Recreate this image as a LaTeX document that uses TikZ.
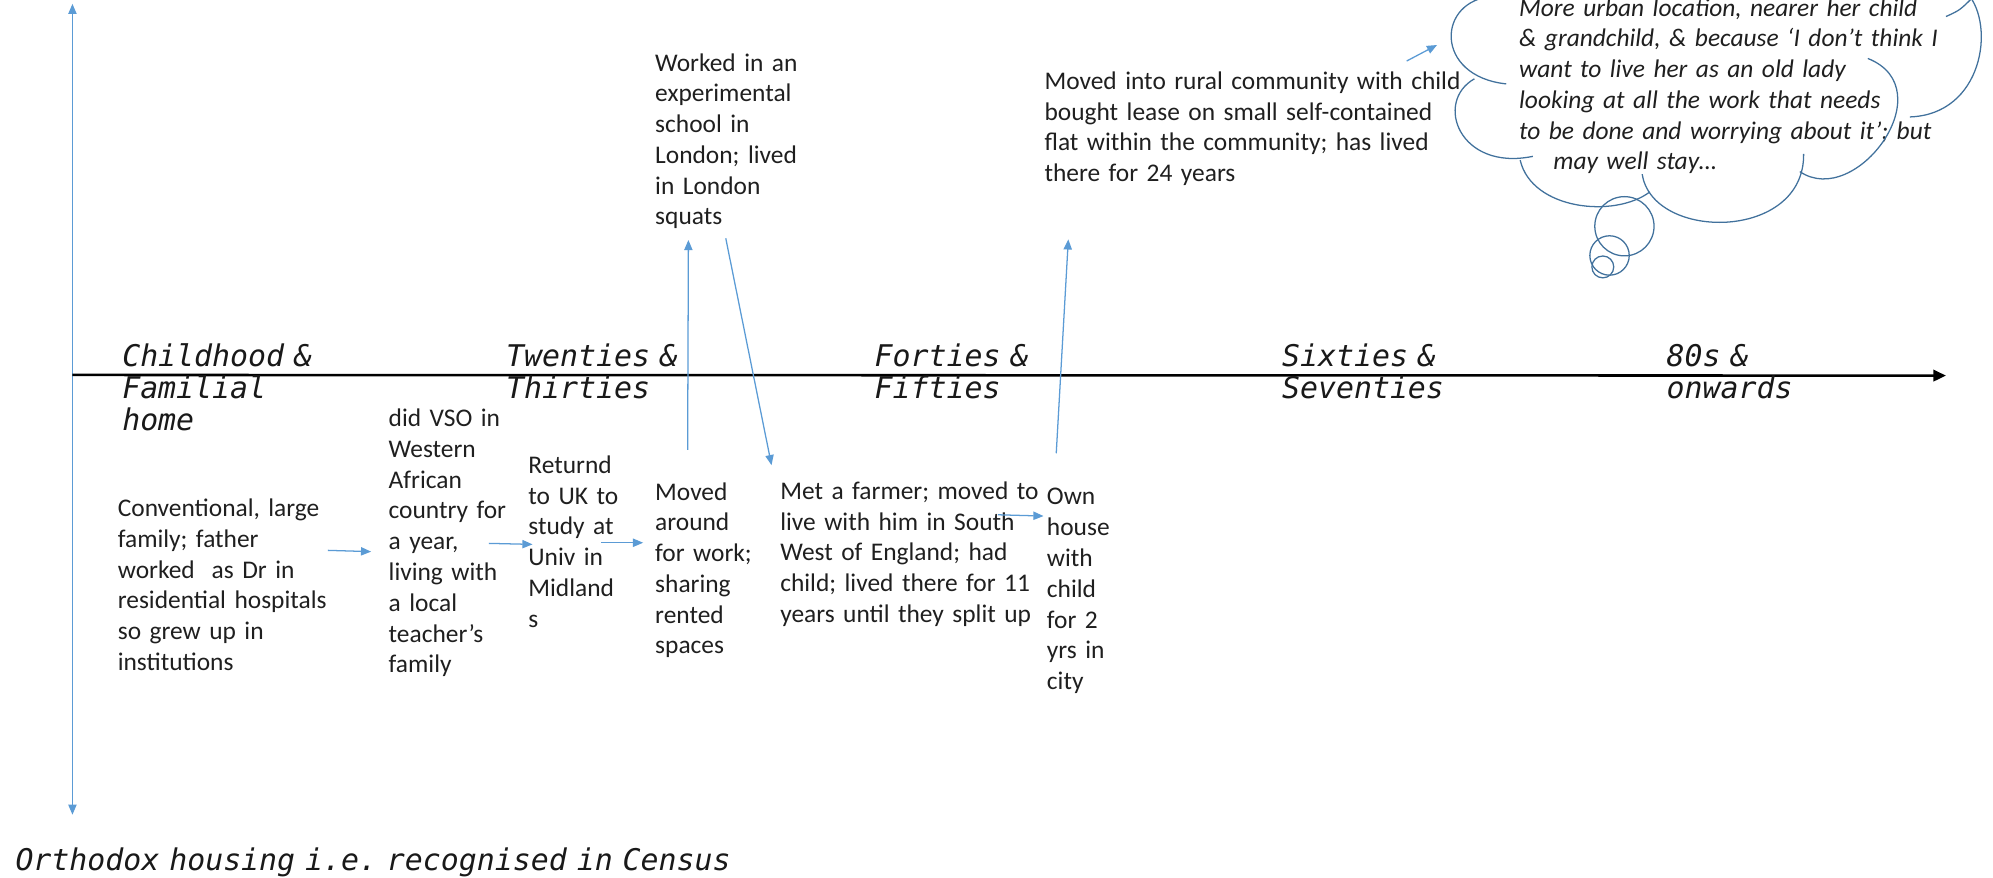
\documentclass[tikz,border=0pt]{standalone}
\usepackage{fontspec}
\setmainfont{Carlito}
\newfontfamily\labelfont{DejaVu Sans Mono Oblique}
\usetikzlibrary{arrows.meta}
\definecolor{arrowblue}{HTML}{5B9BD5}
\definecolor{cloudblue}{HTML}{41719C}
\frenchspacing
\begin{document}
\begin{tikzpicture}[x=1pt,y=-1pt,
  every node/.style={inner sep=0pt, anchor=base west},
  body/.style={font=\fontsize{20}{24.2}\selectfont, text=black!88, align=left, text width=#1},
  body/.default=130pt,
  period/.style={font=\labelfont\fontsize{23.5}{25}\selectfont\frenchspacing, text=black!90, align=left, text width=220pt},
  flow/.style={draw=arrowblue, line width=1pt, -{Triangle[length=8pt,width=6.5pt]}},
  cloudline/.style={draw=cloudblue, line width=1pt}]
\useasboundingbox (0,0) rectangle (1568,690);
\clip (0,0) rectangle (1568,690);

% axes
\coordinate (vtop) at (57,3);
\coordinate (vbot) at (57,641);
\coordinate (horig) at (57,295);
\coordinate (hend) at (1531,295.5);
\draw[draw=arrowblue, line width=1pt, {Triangle[length=8pt,width=6.5pt]}-{Triangle[length=8pt,width=6.5pt]}] (vtop) -- (vbot);
\draw[line width=2pt, -{Triangle[length=10pt,width=9pt]}] (horig) -- (hend);

% period labels
\node[period] (p1) at (96,288.5) {Childhood \&\\Familial\\home};
\node[period] (p2) at (398,288.5) {Twenties \&\\Thirties};
\node[period] (p3) at (688,288.5) {Forties \&\\Fifties};
\node[period] (p4) at (1008.5,288.5) {Sixties \&\\Seventies};
\node[period] (p5) at (1311,288.5) {80s \&\\onwards};
\node[period, text width=700pt] (census) at (12,684.5) {Orthodox housing i.e. recognised in Census};

% life events
\node[body=170pt] (home) at (92.5,406.5) {Conventional, large\\family; father\\worked\ \ as Dr in\\residential hospitals\\so grew up in\\institutions};
\node[body] (vso) at (305.6,335.7) {did VSO in\\Western\\African\\country for\\a year,\\living with\\a local\\teacher’s\\family};
\node[body] (univ) at (415.5,372.4) {Returnd\\to UK to\\study at\\Univ in\\Midland\\s};
\node[body] (rent) at (515.3,393.4) {Moved\\around\\for work;\\sharing\\rented\\spaces};
\node[body=230pt] (farm) at (613.7,392.9) {Met\ a farmer;\ moved to\\live with\ him in South\\West of England; had\\child; lived there\ for 11\\years until they split up};
\node[body] (own) at (823.5,397.3) {Own\\house\\with\\child\\for 2\\yrs in\\city};
\node[body] (squat) at (515.3,55.9) {Worked\ in an\\experimental\\school in\\London;\ lived\\in London\\squats};
\node[body=340pt] (rural) at (821.6,70.3) {Moved into rural community\ with child\\bought\ lease on small self-contained\\flat within the community;\ has lived\\there for 24 years};
\node[body=370pt, font=\fontsize{20}{24.2}\selectfont\itshape] (future) at (1195,12.6) {More urban location, nearer her child\\\& grandchild, \& because ‘I don’t think I\\want to live her as an old lady\\looking at all the work that needs\\to be done and worrying\ about it’; but\\\hspace*{27pt}may well stay…};

% connectors between events
\coordinate (a1s) at (258,433);   \coordinate (a1e) at (292,434);
\coordinate (a2s) at (384.6,427.5); \coordinate (a2e) at (419,428.3);
\coordinate (a3s) at (473,427);   \coordinate (a3e) at (506,427);
\coordinate (a4s) at (785,405);   \coordinate (a4e) at (821,406);
\coordinate (u1s) at (541,354);   \coordinate (u1e) at (541.6,188.8);
\coordinate (d1s) at (571,187.5); \coordinate (d1e) at (607,366);
\coordinate (u2s) at (831,356.6); \coordinate (u2e) at (840.5,188.3);
\coordinate (c1s) at (1106.7,48); \coordinate (c1e) at (1130.6,35.4);
\draw[flow] (a1s) -- (a1e);
\draw[flow] (a2s) -- (a2e);
\draw[flow] (a3s) -- (a3e);
\draw[flow] (a4s) -- (a4e);
\draw[flow] (u1s) -- (u1e);
\draw[flow] (d1s) -- (d1e);
\draw[flow] (u2s) -- (u2e);
\draw[flow] (c1s) -- (c1e);

% thought cloud
\draw[cloudline] (1175,-3) .. controls (1130,0) and (1128,60) .. (1185,66);
\draw[cloudline] (1160,62) .. controls (1128,80) and (1148,135) .. (1206,123);
\draw[cloudline] (1196,126) .. controls (1205,165) and (1270,172) .. (1298,151);
\draw[cloudline] (1292,137) .. controls (1300,190) and (1420,190) .. (1419,121);
\draw[cloudline] (1416,135) .. controls (1460,165) and (1530,70) .. (1469.5,46);
\draw[cloudline] (1502.6,92) .. controls (1560,90) and (1570,20) .. (1548,-5);
\draw[cloudline] (1531,13) .. controls (1542,8) .. (1553,-3);
\draw[cloudline] (1278,178) circle[radius=23.3];
\draw[cloudline] (1266.3,201) circle[radius=15.5];
\draw[cloudline] (1261,210) circle[radius=8.6];
\end{tikzpicture}
\end{document}
